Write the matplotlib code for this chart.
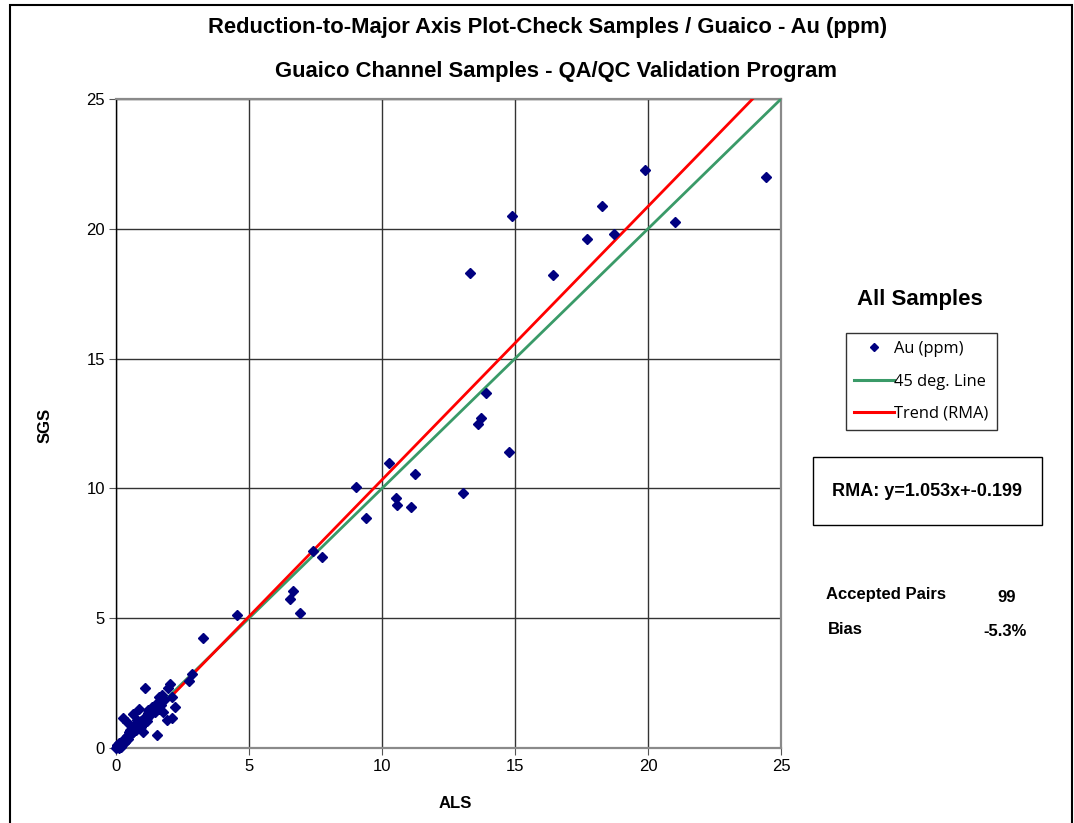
import matplotlib
matplotlib.use("Agg")
import matplotlib.pyplot as plt
import numpy as np
from matplotlib.lines import Line2D
from matplotlib.patches import Rectangle

# ---------------- data ----------------
als = [4.56, 3.27, 6.67, 6.54, 6.92, 7.39, 7.74, 9.02, 9.39, 10.25, 11.25, 10.53, 10.56, 11.08,
       13.03, 14.79, 13.60, 13.72, 13.91, 13.32, 14.87, 16.43, 17.69, 18.26, 18.72, 19.89, 21.00, 24.44,
       2.85, 2.76, 1.09, 2.03, 1.97, 1.72, 1.63, 2.09, 1.80, 2.22, 1.40, 1.21, 0.88, 1.78, 2.09, 1.90,
       0.63, 0.25, 0.40, 0.78, 1.15, 1.03, 0.65, 0.53, 0.90, 1.00, 1.53, 0.46, 0.21, 0.09, 0.00, 0.34,
       1.21, 1.34, 1.59, 0.72, 0.85, 0.95, 1.10, 1.25, 0.60, 0.55, 0.75, 0.45, 0.30, 0.15, 0.05, 0.10,
       0.02, 0.20, 0.12, 1.45, 1.60, 1.70, 0.70, 0.80, 1.05, 0.95, 0.35, 0.25, 0.08, 0.40, 1.30, 0.50,
       0.65, 1.15, 0.18, 0.28, 0.04, 0.14, 0.06]
sgs = [5.14, 4.24, 6.06, 5.73, 5.21, 7.59, 7.37, 10.07, 8.85, 10.97, 10.55, 9.62, 9.35, 9.27,
       9.81, 11.40, 12.50, 12.72, 13.66, 18.31, 20.48, 18.23, 19.62, 20.89, 19.79, 22.28, 20.27, 21.99,
       2.85, 2.59, 2.30, 2.47, 2.30, 2.04, 1.98, 1.98, 1.85, 1.59, 1.53, 1.34, 1.49, 1.40, 1.14, 1.08,
       1.31, 1.14, 1.01, 1.08, 1.14, 1.01, 0.82, 0.69, 0.89, 0.63, 0.50, 0.50, 0.24, 0.12, 0.00, 0.31,
       1.46, 1.59, 1.78, 0.75, 0.95, 1.05, 1.20, 1.25, 0.65, 0.55, 0.70, 0.35, 0.20, 0.10, 0.05, 0.00,
       0.08, 0.05, 0.18, 1.40, 1.50, 1.65, 0.90, 0.80, 0.95, 0.80, 0.25, 0.30, 0.02, 0.45, 1.35, 0.60,
       0.60, 1.05, 0.15, 0.22, 0.10, 0.06, 0.03]

rma_slope = 1.053
rma_intercept = -0.199
axis_max = 25
ticks = [0, 5, 10, 15, 20, 25]

title1 = "Reduction-to-Major Axis Plot-Check Samples / Guaico - Au (ppm)"
title2 = "Guaico Channel Samples - QA/QC Validation Program"
legend_labels = ["Au (ppm)", "45 deg. Line", "Trend (RMA)"]
accepted_pairs = "99"
bias = "-5.3%"

# ---------------- figure ----------------
W, H = 1074, 823
fig = plt.figure(figsize=(W / 100, H / 100), dpi=100)
fig.patch.set_facecolor("white")

def fx(px):
    return px / W

def fy(py):
    return 1 - py / H

# outer frame
fig.add_artist(Rectangle((fx(10), fy(830)), fx(1072) - fx(10), fy(5) - fy(830),
                         transform=fig.transFigure, fill=False, edgecolor="black", lw=1.5))

ax = fig.add_axes([fx(116), fy(748), fx(781) - fx(116), fy(99) - fy(748)])
ax.set_xlim(0, axis_max)
ax.set_ylim(0, axis_max)
ax.set_xticks(ticks)
ax.set_yticks(ticks)
ax.grid(True, color="#333333", lw=1.0)
ax.set_axisbelow(True)
for s in ["top", "right", "bottom"]:
    ax.spines[s].set_color("#8a8a8a")
    ax.spines[s].set_linewidth(1.6)
ax.spines["left"].set_color("black")
ax.spines["left"].set_linewidth(1.0)
ax.tick_params(axis="both", direction="out", length=5, width=0.8, color="#555555",
               labelsize=12, pad=3)
for lab in ax.get_xticklabels() + ax.get_yticklabels():
    lab.set_fontfamily("Liberation Sans")

green = "#3a9a68"
red = "#ff0000"
navy = "#000080"

xl = np.array([0, axis_max])
ax.plot(xl, xl, color=green, lw=2.0, zorder=3, solid_capstyle="butt")
ax.plot(xl, rma_slope * xl + rma_intercept, color=red, lw=2.0, zorder=3, solid_capstyle="butt")
ax.plot(als, sgs, linestyle="none", marker="D", ms=4.8, color=navy, mec=navy, zorder=4,
        clip_on=False)

ax.set_xlabel("ALS", fontfamily="Liberation Sans", fontweight="bold", fontsize=12)
ax.set_ylabel("SGS", fontfamily="Liberation Sans", fontweight="bold", fontsize=12)
ax.xaxis.set_label_coords((455 - 116) / 665, -(803 - 748) / 649)
ax.yaxis.set_label_coords(-(116 - 45) / 665, (748 - 425) / 649)
ax.xaxis.label.set_va("center")
ax.yaxis.label.set_va("center")

# titles
fig.text(fx(548), fy(27), title1, ha="center", va="center", fontfamily="Liberation Sans",
         fontweight="bold", fontsize=15.8)
fig.text(fx(556), fy(71), title2, ha="center", va="center", fontfamily="Liberation Sans",
         fontweight="bold", fontsize=15.8)

# right panel
fig.text(fx(920), fy(300), "All Samples", ha="center", va="center", fontfamily="Liberation Sans",
         fontweight="bold", fontsize=16)

handles = [Line2D([], [], linestyle="none", marker="D", ms=4.5, color=navy),
           Line2D([], [], color=green, lw=2.2),
           Line2D([], [], color=red, lw=2.2)]
leg = fig.legend(handles, legend_labels, loc="upper left",
                 bbox_to_anchor=(fx(846), fy(333)), bbox_transform=fig.transFigure,
                 prop={"family": "Open Sans", "size": 11.8}, frameon=True, fancybox=False,
                 edgecolor="black", borderpad=0.5, labelspacing=1.0, handlelength=2.4,
                 handletextpad=0.05, borderaxespad=0)
leg.get_frame().set_linewidth(1.0)

fig.add_artist(Rectangle((fx(813), fy(525)), fx(1042) - fx(813), fy(457) - fy(525),
                         transform=fig.transFigure, fill=False, edgecolor="black", lw=1.0))
fig.text(fx(927), fy(491), "RMA: y=%.3fx+%.3f" % (rma_slope, rma_intercept), ha="center",
         va="center", fontfamily="Liberation Sans", fontweight="bold", fontsize=13)

fig.text(fx(826), fy(595), "Accepted Pairs", ha="left", va="center", fontfamily="Liberation Sans",
         fontweight="bold", fontsize=12)
fig.text(fx(1007), fy(597), accepted_pairs, ha="center", va="center", fontfamily="Liberation Sans",
         fontweight="bold", fontsize=12)
fig.text(fx(828), fy(629), "Bias", ha="left", va="center", fontfamily="Liberation Sans",
         fontweight="bold", fontsize=12)
fig.text(fx(1005), fy(631), bias, ha="center", va="center", fontfamily="Liberation Sans",
         fontweight="bold", fontsize=12)

fig.savefig("out.png", dpi=100, facecolor="white")
